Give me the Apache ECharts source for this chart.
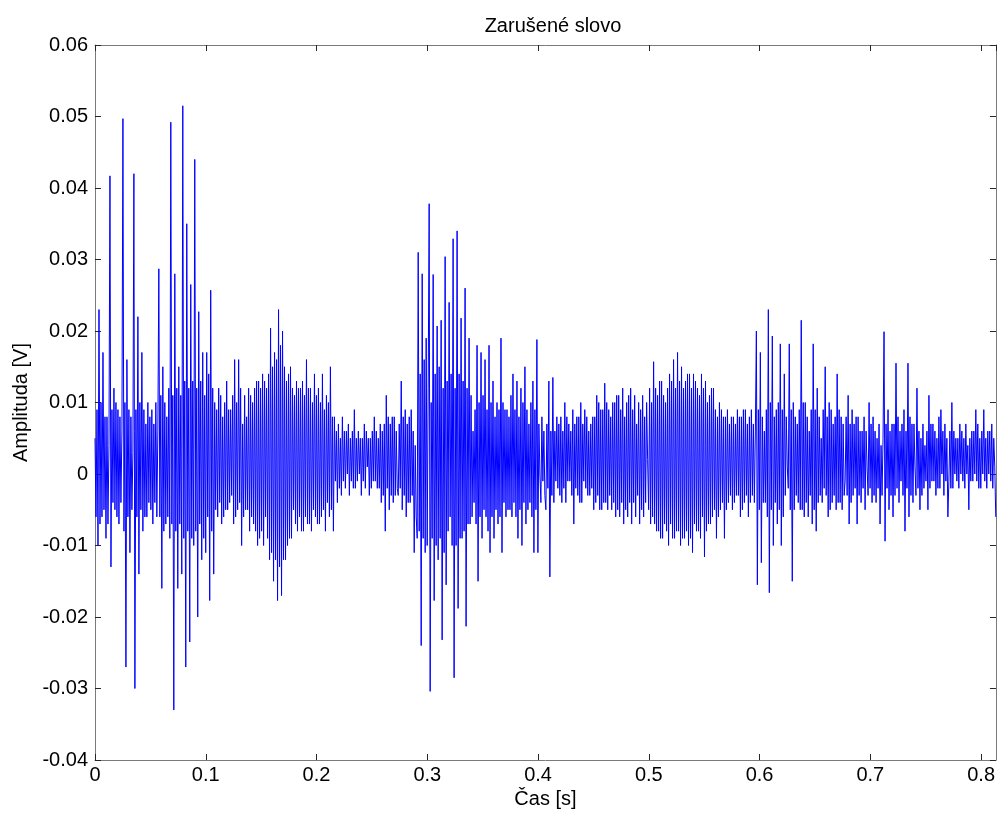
<!DOCTYPE html>
<html>
<head>
<meta charset="utf-8">
<script src="https://cdn.jsdelivr.net/npm/echarts@6/dist/echarts.min.js"></script>
<style>
  html, body { margin: 0; padding: 0; background: #fff; }
  #chart { width: 998px; height: 816px; }
</style>
</head>
<body>
<div id="chart"></div>
<script>
// waveform, values in mV, one sample every sampleStep seconds
var sampleStep = 0.0009006;
var amplitudeMilliVolts = [
  5, -6, 9, -10, 23, -7, 10, -6, 17, -5, 8, -9, 8, -7, 4, 41.7, -13, 9, -4, 12,
  -5, 10, -6, 9, -7, 8, -4, 6, 49.7, -8, 10, -27, 16, -6, 9, -11, 8, -5, 3, 42,
  -30, 9, -6, 22, -14, 10, -5, 17, -8, 9, -6, 7, -6, 10, -4, 8, -5, 9, -7, 7,
  -4, 10, -6, 6, 28.7, -6, 11, -16, 15, -8, 10, -7, 8, -6, 12, -9, 49.2, -7, 11, -33,
  28, -8, 12, -16, 15, -7, 11, -14, 51.5, -9, 13, -27, 35, -8, 12, -23.5, 26.5, -9, 13, -10,
  44, -8, 12, -20, 22.7, -7, 13, -12, 17, -9, 11, -11, 17, -6, 14, -17.7, 25.7, -8, 12, -14,
  10, -5, 9, -6, 12, -4, 11, -7, 8, -6, 10, -5, 13, -5, 9, -4, 9, -3, 11, -7,
  16, -6, 10, -5, 16, -4, 12, -10, 7, -6, 11, -5, 8, -5, 12, -8, 11, -6, 10, -7,
  12, -8, 13, -10, 13, -9, 12, -8, 14, -10, 13, -6, 12, -9, 14, -12, 20.4, -11, 15, -15,
  17, -12, 16, -17.7, 23, -13, 18, -17, 20, -12, 15, -12, 13, -10, 14, -9, 15, -9, 12, -5,
  11, -7, 13, -8, 12, -6, 12, -8, 13, -8, 11, -6, 16, -7, 12, -7, 12, -8, 10, -5,
  14, -6, 11, -7, 12, -7, 10, -6, 14, -5, 9, -8, 11, -4, 10, -6, 15, -5, 8, -8,
  8, -1, 6, -4, 7, -2, 5, -3, 8, -1, 6, -2, 6, 0, 7, -3, 5, -1, 6, -2,
  9, -2, 5, -1, 6, 0, 5, -3, 5, -1, 7, -2, 6, 1, 5, -3, 5, -2, 6, -1,
  8, -1, 6, -2, 5, -2, 7, -4, 6, -3, 7, -8, 11, -2, 8, -5, 7, -3, 8, -4,
  8, -3, 6, -2, -3, 7, -2, 13, -5, 8, -3, 9, -6, 7, -4, 8, -4, 9, -3, 6,
  -11, 4, -6, -9, 31, -8, 14, -24, 28, -9, 16, -11, 19, -10, 12, 37.8, -30.4, 10, -9, 27.9,
  -17.7, 14, -10, 20.7, -12, 15, -9, 21.5, -23.2, 12, -11, 30.4, -15.5, 13, -8, 24, -6, 14, -10, 32.9,
  -28.5, 12, -10, 34, -18.8, 14, -9, 21.8, -9, 13, -8, 26, -21.3, 12, -7, 19, -7, 11, -6, 6,
  -4, 9, -7, 18, -15, 10, -6, 17, -9, 11, -5, 16, -6, 9, -8, 18, -11, 10, -6, 13,
  -9, 8, -5, 10, -7, 9, -6, 19, -11, 10, -4, 9, -6, 9, -5, 8, -5, 11, -6, 14,
  -4, 9, -6, 13, -9, 8, -5, 12, -10, 10, -4, 15, -7, 9, -5, 7, -4, 10, -6, 13,
  -11, 9, -5, 18.8, -11, 7, 0, -4, 8, -1, 6, -3, -5, 7, -2, 13, -14.4, 6, -3, 13.5,
  -4, 6, -1, 8, -2, 7, -3, 8, -4, 6, -2, 10, -4, 8, -1, 7, -1, 6, -3, 9,
  -7, 7, -2, 8, -3, 8, -4, 10, -4, 7, -1, 9, -2, 8, -3, 6, -3, 7, -2, 8,
  -5, 8, -4, 11, -3, 10, -5, 9, -5, 9, -4, 12.7, -4, 10, -5, 9, -3, 8, -5, 10,
  -4, 10, -6, 11, -5, 11, -6, 9, -4, 12, -7, 8, -5, 10, -6, 11, -4, 12, -7, 9,
  -4, 11, -6, 7, -3, 10, -7, 9, -5, 11, -6, 8, -4, 10, 2, -5, 12, -7, 10, -6,
  15.7, -7, 12, -8, 11, -8, 13, -9, 13, -9, 11, -7, 10, -8, 12, -10, 14, -7, 13, -9,
  16, -9, 12, -8, 17, -8, 13, -10, 15, -9, 12, -9, 13, -8, 14, -10, 14, -9, 12, -11,
  14, -7, 13, -8, 12, -8, 11, -9, 14, -6, 12, -11.6, 13, -8, 10, -7, 11, -7, 12, -6,
  12, -5, 9, -9, 8, -6, 10, -5, 9, -4, 8, -9, 8, -5, 9, -4, 7, -3, 8, -5,
  8, -4, 7, -3, 9, -3, 8, -6, 8, -5, 9, -4, 9, -3, 7, -6, 8, -4, 9, -3,
  7, -4, 6, 20, -15.5, 9, -5, 17, -12.4, 8, -4, 6, -4, 9, -6, 23, -16.6, 10, -5, 19.3,
  -10, 8, -4, 9, -7, 10, -5, 18.2, -10, 9, -6, 14, -3, 8, 1, -2, 18.2, -5, 9, -15,
  10, -5, 8, -3, 7, -4, 9, -5, 21.5, -5, 10, -6, 10, -4, 8, -6, 6, -3, 9, -7,
  18.2, -5, 9, -8, 12, -4, 8, -3, 5, -4, 9, -2, 15, -3, 8, -6, 10, -5, 9, -4,
  7, -3, 8, -5, 14, -4, 9, -4, 8, -5, 7, -3, -1, 8, -3, 11, -7, 7, -4, 9,
  -3, 7, -2, 8, -7, 8, -3, 6, -4, 6, -2, 8, -5, 6, 1, -3, 10, -2, 7, -4,
  8, -3, 6, -4, 5, -2, 7, -7, 4, -3, 5, 19.9, -9.4, 7, -2, 9, -5, 6, -3, 7,
  -6, 7, -3, 15.5, -2, 8, -4, 6, -1, 7, -3, 9, -8, 6, -2, 15.5, -6, 8, -3, 7,
  -4, 7, 1, -3, 12, -2, 6, -5, 5, -3, 7, -2, 4, -1, 6, -5, 11, -2, 7, -1,
  7, -1, 6, -3, 5, -2, 8, -2, 9, 0, 6, -3, 7, -1, 5, -6, -1, 6, -2, 10,
  -2, 6, 0, 5, -1, 5, -2, 7, 0, 6, -1, 5, -2, 7, 0, 4, -5, 5, -1, 6,
  -1, 6, 0, 9, -1, 7, -2, 5, -2, 6, 0, 9, -1, 5, -2, 6, 0, 6, -1, 7,
  -2, 5, 1, -6
];
var xTicks = [0, 0.1, 0.2, 0.3, 0.4, 0.5, 0.6, 0.7, 0.8];
var yTicks = [-0.04, -0.03, -0.02, -0.01, 0, 0.01, 0.02, 0.03, 0.04, 0.05, 0.06];
var timeMax = 0.8134;

var points = amplitudeMilliVolts.map(function (v, i) {
  return [i * sampleStep, v / 1000];
});

var fontFamily = '"Liberation Sans", Arial, sans-serif';

function boxLine() {
  return { show: true, onZero: false, lineStyle: { color: '#7a7a7a', width: 1 } };
}
function innerTick() {
  return { show: true, inside: true, length: 6, lineStyle: { color: '#262626' } };
}

var chart = echarts.init(document.getElementById('chart'), null, { renderer: 'canvas' });
chart.setOption({
  animation: false,
  backgroundColor: '#fff',
  title: {
    text: 'Zarušené slovo',
    left: 548,
    top: 11,
    textAlign: 'center',
    textStyle: { fontFamily: fontFamily, fontSize: 20, fontWeight: 'normal', color: '#000' }
  },
  grid: { left: 95, right: 1, top: 45, bottom: 56, containLabel: false },
  xAxis: [{
    type: 'value',
    position: 'bottom',
    min: xTicks[0],
    max: timeMax,
    interval: 0.1,
    name: 'Čas [s]',
    nameLocation: 'middle',
    nameGap: 28,
    nameTextStyle: { fontFamily: fontFamily, fontSize: 20, color: '#000' },
    axisLine: boxLine(),
    axisTick: innerTick(),
    splitLine: { show: false },
    axisLabel: { fontFamily: fontFamily, fontSize: 20, color: '#000', margin: 5, showMaxLabel: false }
  }, {
    type: 'value',
    position: 'top',
    min: xTicks[0],
    max: timeMax,
    interval: 0.1,
    axisLine: boxLine(),
    axisTick: innerTick(),
    splitLine: { show: false },
    axisLabel: { show: false }
  }],
  yAxis: [{
    type: 'value',
    position: 'left',
    min: yTicks[0],
    max: yTicks[yTicks.length - 1],
    interval: 0.01,
    name: 'Amplituda [V]',
    nameLocation: 'middle',
    nameGap: 64,
    nameTextStyle: { fontFamily: fontFamily, fontSize: 20, color: '#000' },
    axisLine: boxLine(),
    axisTick: innerTick(),
    splitLine: { show: false },
    axisLabel: { fontFamily: fontFamily, fontSize: 20, color: '#000', margin: 7 }
  }, {
    type: 'value',
    position: 'right',
    min: yTicks[0],
    max: yTicks[yTicks.length - 1],
    interval: 0.01,
    axisLine: boxLine(),
    axisTick: innerTick(),
    splitLine: { show: false },
    axisLabel: { show: false }
  }],
  series: [{
    type: 'line',
    xAxisIndex: 0,
    yAxisIndex: 0,
    data: points,
    showSymbol: false,
    symbol: 'none',
    sampling: null,
    clip: true,
    lineStyle: { color: '#0000ff', width: 1 },
    itemStyle: { color: '#0000ff' }
  }]
});
</script>
</body>
</html>
